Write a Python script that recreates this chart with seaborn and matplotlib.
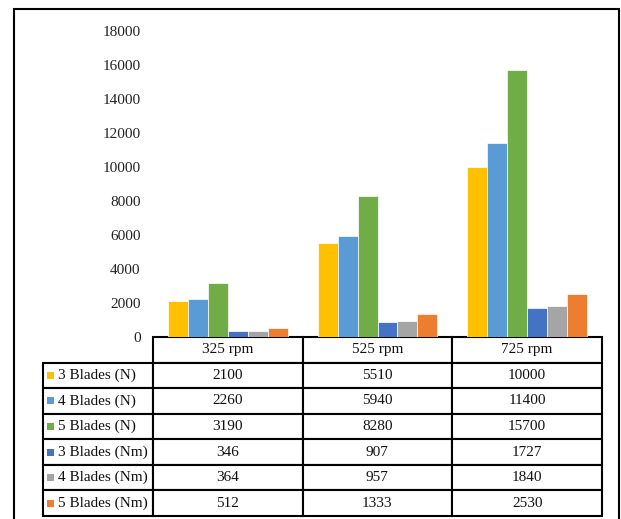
import matplotlib
matplotlib.use("Agg")
import matplotlib.pyplot as plt
from matplotlib.patches import Rectangle
from matplotlib.table import Table
import pandas as pd
import seaborn as sns

# Rotor speeds and series (force in N, torque in Nm) per blade count
speeds = ["325 rpm", "525 rpm", "725 rpm"]
series = ["3 Blades (N)", "4 Blades (N)", "5 Blades (N)",
          "3 Blades (Nm)", "4 Blades (Nm)", "5 Blades (Nm)"]
blades3_n = [2100, 5510, 10000]
blades4_n = [2260, 5940, 11400]
blades5_n = [3190, 8280, 15700]
blades3_nm = [346, 907, 1727]
blades4_nm = [364, 957, 1840]
blades5_nm = [512, 1333, 2530]
colors = ["#FFC000", "#5B9BD5", "#70AD47", "#4472C4", "#A5A5A5", "#ED7D31"]
yticks = [0, 2000, 4000, 6000, 8000, 10000, 12000, 14000, 16000, 18000]

values = [blades3_n, blades4_n, blades5_n, blades3_nm, blades4_nm, blades5_nm]
df = pd.DataFrame([
    {"speed": sp, "series": name, "value": v}
    for name, vals in zip(series, values)
    for sp, v in zip(speeds, vals)
])

sns.set_style("white")
plt.rcParams["font.family"] = ["Liberation Serif", "DejaVu Serif"]

W, H = 621, 519
fig = plt.figure(figsize=(W / 100, H / 100), dpi=100)
ax_l, ax_r, ax_b, ax_t = 153, 602, 337, 31
ax = fig.add_axes([ax_l / W, 1 - ax_b / H, (ax_r - ax_l) / W, (ax_b - ax_t) / H])

sns.barplot(data=df, x="speed", y="value", hue="series", hue_order=series,
            order=speeds, palette=colors, width=0.8, saturation=1,
            edgecolor="white", linewidth=0.5, legend=False, ax=ax)

ax.set_xlim(-0.5, 2.5)
ax.set_ylim(0, 18000)
ax.set_yticks(yticks)
ax.set_yticklabels([str(t) for t in yticks], fontsize=11, color="#222222")
ax.tick_params(axis="y", length=0, pad=9)
ax.set_xticks([])
ax.set_xlabel("")
ax.set_ylabel("")
for s in ax.spines.values():
    s.set_visible(False)

# Data table beneath the bars
aw, ah = ax_r - ax_l, ax_b - ax_t
tbl_left, tbl_bottom = 43, 516
bbox = [(tbl_left - ax_l) / aw, (ax_b - tbl_bottom) / ah,
        (ax_r - tbl_left) / aw, (tbl_bottom - ax_b) / ah]
table = Table(ax, bbox=bbox)
label_w, col_w, row_h = 110, 150, 1.0
for j, sp in enumerate(speeds):
    table.add_cell(0, j + 1, width=col_w, height=row_h, text=sp, loc="center")
for i, (name, vals) in enumerate(zip(series, values)):
    c = table.add_cell(i + 1, 0, width=label_w, height=row_h, text=name, loc="left")
    c.PAD = 15 / label_w
    for j, v in enumerate(vals):
        table.add_cell(i + 1, j + 1, width=col_w, height=row_h, text=str(v), loc="center")
table.auto_set_font_size(False)
table.set_fontsize(11)
for cell in table.get_celld().values():
    cell.set_linewidth(1.5)
    cell.set_edgecolor("black")
    cell.get_text().set_color("#111111")
table.set_clip_on(False)
ax.add_table(table)

# Colour keys in the row-label cells
n_rows = len(series) + 1
row_px = (tbl_bottom - ax_b) / n_rows
for i, col in enumerate(colors):
    cy = ax_b + row_px * (i + 1.5)
    ax.add_patch(Rectangle(((47 - ax_l) / aw, (ax_b - cy - 3.5) / ah), 7 / aw, 7 / ah,
                           transform=ax.transAxes, facecolor=col, edgecolor="none",
                           clip_on=False))

# Outer frame
fig.add_artist(Rectangle((13.5 / W, -0.05), (618.5 - 13.5) / W, 1.05 - 8.5 / H,
                         transform=fig.transFigure, fill=False, edgecolor="black",
                         linewidth=1.5))

fig.savefig("out.png", dpi=100)
